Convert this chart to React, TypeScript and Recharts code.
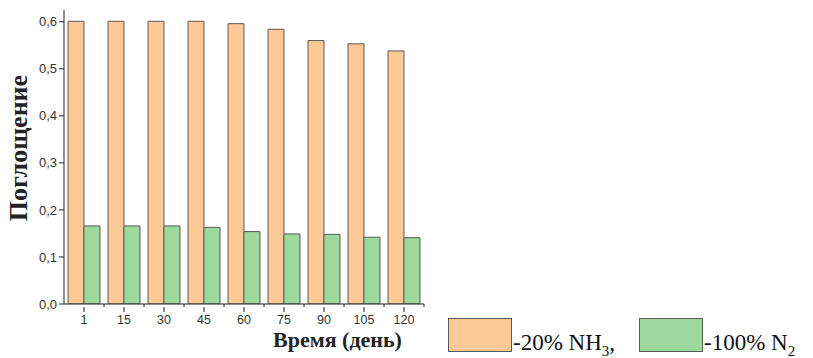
import { BarChart, Bar, XAxis, YAxis } from 'recharts'

const days = ['1', '15', '30', '45', '60', '75', '90', '105', '120']
const nh3 = [0.601, 0.601, 0.601, 0.601, 0.596, 0.584, 0.560, 0.553, 0.538]
const n2 = [0.166, 0.166, 0.166, 0.163, 0.154, 0.149, 0.148, 0.142, 0.141]
const yTicks = [0, 0.1, 0.2, 0.3, 0.4, 0.5, 0.6]

const chartData = days.map((d, i) => ({ day: d, nh3: nh3[i], n2: n2[i] }))

const ORANGE = '#fcc896'
const GREEN = '#9dd89d'
const EDGE = '#5a5a5a'
const SERIF = "'Liberation Serif', 'Times New Roman', serif"
const SANS = "'Liberation Sans', Arial, sans-serif"

// x tick: label + major tick at center, minor ticks at band edges
function DayTick(props: any) {
  const { x, y, payload } = props
  return (
    <g>
      <line x1={x} y1={y - 5} x2={x} y2={y} stroke="#222" />
      <line x1={x + 20} y1={y - 8} x2={x + 20} y2={y - 5} stroke="#222" />
      <text x={x} y={y + 12} textAnchor="middle" fontSize={12.5} fill="#333" fontFamily={SANS}>
        {payload.value}
      </text>
    </g>
  )
}

function LegendItem({ color, left, children }: { color: string; left: number; children: any }) {
  return (
    <>
      <div style={{ position: 'absolute', left, top: 318, width: 64, height: 34, background: color,
        border: `1px solid ${EDGE}`, boxSizing: 'border-box' }} />
      <div style={{ position: 'absolute', left: left + 65, top: 330, fontFamily: SERIF, fontSize: 23,
        color: '#111', whiteSpace: 'nowrap', lineHeight: '26px' }}>{children}</div>
    </>
  )
}

export default function App() {
  return (
    <div style={{ position: 'absolute', left: 0, top: 0, width: 813, height: 358, background: '#fff' }}>
      <BarChart width={813} height={358} data={chartData}
        margin={{ top: 10, right: 389, left: 0, bottom: 24 }}
        barCategoryGap="10%" barGap={0}>
        <XAxis dataKey="day" tick={<DayTick />} tickLine={false}
          axisLine={{ stroke: '#222' }} height={30} interval={0} />
        <YAxis domain={[0, 0.625]} ticks={yTicks} width={64} tickSize={5} tickMargin={2}
          allowDataOverflow
          tickFormatter={(v: number) => v.toFixed(1).replace('.', ',')}
          tick={{ fontSize: 13, fill: '#333', fontFamily: SANS }}
          axisLine={{ stroke: '#222' }} tickLine={{ stroke: '#222' }} />
        <Bar dataKey="nh3" fill={ORANGE} stroke={EDGE} strokeWidth={1} isAnimationActive={false} />
        <Bar dataKey="n2" fill={GREEN} stroke={EDGE} strokeWidth={1} isAnimationActive={false} />
      </BarChart>
      <div style={{ position: 'absolute', left: 19, top: 148, transform: 'translate(-50%, -50%) rotate(-90deg)',
        fontFamily: SERIF, fontWeight: 'bold', fontSize: 26, color: '#222', whiteSpace: 'nowrap' }}>
        Поглощение
      </div>
      <div style={{ position: 'absolute', left: 273, top: 328, fontFamily: SERIF, fontWeight: 'bold',
        fontSize: 22, lineHeight: '24px', color: '#222', whiteSpace: 'nowrap' }}>Время (день)</div>
      <LegendItem color={ORANGE} left={448}>-20% NH<sub style={{ fontSize: 15 }}>3</sub>,</LegendItem>
      <LegendItem color={GREEN} left={639}>-100% N<sub style={{ fontSize: 15 }}>2</sub></LegendItem>
    </div>
  )
}
